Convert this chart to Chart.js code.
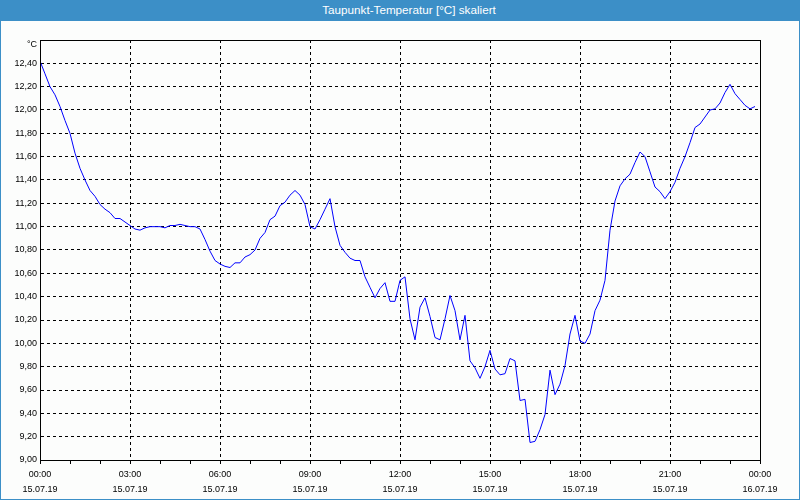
<!DOCTYPE html>
<html>
<head>
<meta charset="utf-8">
<script src="https://cdn.jsdelivr.net/npm/chart.js@4/dist/chart.umd.min.js"></script>
<style>
  body { margin: 0; background: #fcfdfc; }
  #wrap { position: relative; width: 800px; height: 500px; box-sizing: border-box;
          border: 1px solid #3c8fc7; border-top: none; overflow: hidden; }
  #title { position: absolute; left: 0; top: 0; width: 800px; height: 21px; background: #3c8fc7;
           color: #fff; font: 11.7px "Liberation Sans", Arial, sans-serif; line-height: 20px;
           text-align: center; padding-left: 16px; box-sizing: border-box; }
  canvas { position: absolute; left: -1px; top: 0; }
</style>
</head>
<body>
<div id="wrap">
  <canvas id="dewChart" width="800" height="500"></canvas>
  <div id="title">Taupunkt-Temperatur [°C] skaliert</div>
</div>
<script>
// dew point, one value every 10 minutes from 15.07.19 00:00
const dewPoint = [
  12.42, 12.31, 12.20, 12.13, 12.03, 11.91,
  11.80, 11.63, 11.50, 11.40, 11.31, 11.26,
  11.19, 11.15, 11.12, 11.07, 11.07, 11.04,
  11.01, 10.98, 10.97, 10.99, 11.00, 11.00,
  11.00, 10.99, 11.01, 11.01, 11.02, 11.01,
  11.00, 11.00, 10.98, 10.89, 10.79, 10.71,
  10.68, 10.66, 10.65, 10.69, 10.69, 10.74,
  10.76, 10.80, 10.90, 10.95, 11.06, 11.09,
  11.18, 11.21, 11.27, 11.31, 11.27, 11.19,
  11.00, 10.98, 11.06, 11.15, 11.24, 11.00,
  10.84, 10.78, 10.73, 10.71, 10.71, 10.57,
  10.48, 10.39, 10.47, 10.52, 10.36, 10.36,
  10.54, 10.57, 10.21, 10.03, 10.31, 10.39,
  10.23, 10.05, 10.03, 10.21, 10.41, 10.28,
  10.03, 10.24, 9.85, 9.79, 9.70, 9.80,
  9.94, 9.78, 9.73, 9.74, 9.87, 9.85,
  9.51, 9.52, 9.15, 9.16, 9.26, 9.39,
  9.77, 9.56, 9.65, 9.81, 10.08, 10.24,
  10.02, 10.00, 10.08, 10.28, 10.37, 10.54,
  10.97, 11.22, 11.35, 11.41, 11.45, 11.55,
  11.64, 11.60, 11.47, 11.34, 11.30, 11.24,
  11.30, 11.38, 11.50, 11.60, 11.72, 11.85,
  11.88, 11.94, 12.00, 12.01, 12.06, 12.15,
  12.22, 12.14, 12.09, 12.04, 12.01, 12.03
];
const sampleMinutes = 10;

const xTimeLabels = ['00:00', '03:00', '06:00', '09:00', '12:00', '15:00', '18:00', '21:00', '00:00'];
const xDateLabels = ['15.07.19', '15.07.19', '15.07.19', '15.07.19', '15.07.19', '15.07.19', '15.07.19', '15.07.19', '16.07.19'];
const yTicks = [9.0, 9.2, 9.4, 9.6, 9.8, 10.0, 10.2, 10.4, 10.6, 10.8, 11.0, 11.2, 11.4, 11.6, 11.8, 12.0, 12.2, 12.4];
const yMin = 9.0, yMax = 12.6;
const unitTick = 12.56; // where the °C label sits

const points = dewPoint.map((v, i) => ({ x: i * sampleMinutes, y: v }));

const frame = {
  id: 'frame',
  afterDraw(chart) {
    const { ctx, chartArea: a } = chart;
    ctx.save();
    ctx.strokeStyle = '#000';
    ctx.lineWidth = 1;
    ctx.setLineDash([]);
    ctx.strokeRect(Math.round(a.left) + 0.5, Math.round(a.top) + 0.5,
      Math.round(a.right - a.left), Math.round(a.bottom - a.top));
    ctx.restore();
  }
};

const tickFont = { family: '"Liberation Sans", Arial, sans-serif', size: 9, lineHeight: '15px' };

new Chart(document.getElementById('dewChart'), {
  type: 'line',
  data: {
    datasets: [{
      data: points,
      borderColor: '#0000ff',
      borderWidth: 1,
      pointRadius: 0,
      tension: 0,
      fill: false
    }]
  },
  options: {
    responsive: false,
    animation: false,
    layout: { padding: { top: 40, left: 0, right: 40, bottom: 0 } },
    plugins: { legend: { display: false }, tooltip: { enabled: false } },
    scales: {
      x: {
        type: 'linear',
        min: 0,
        max: 1440,
        afterFit: s => { s.height = 40; },
        ticks: {
          stepSize: 60,
          autoSkip: false,
          maxRotation: 0,
          padding: 3,
          color: '#000',
          font: tickFont,
          callback: v => v % 180 === 0 ? [xTimeLabels[v / 180], xDateLabels[v / 180]] : ''
        },
        grid: {
          color: c => (c.tick && c.tick.value % 180 === 0) ? '#000' : 'rgba(0,0,0,0)',
          tickColor: '#000',
          tickLength: 4,
          lineWidth: 1
        },
        border: { color: '#000', dash: [3, 3] }
      },
      y: {
        min: yMin,
        max: yMax,
        afterFit: s => { s.width = 40; },
        afterBuildTicks: s => {
          s.ticks = yTicks.map(v => ({ value: v })).concat([{ value: unitTick }]);
        },
        ticks: {
          padding: 3,
          color: '#000',
          font: tickFont,
          callback: v => v === unitTick ? '°C' : v.toFixed(2).replace('.', ',')
        },
        grid: {
          color: c => (c.tick && c.tick.value === unitTick) ? 'rgba(0,0,0,0)' : '#000',
          drawTicks: false,
          lineWidth: 1
        },
        border: { color: '#000', dash: [3, 3] }
      }
    }
  },
  plugins: [frame]
});
</script>
</body>
</html>
